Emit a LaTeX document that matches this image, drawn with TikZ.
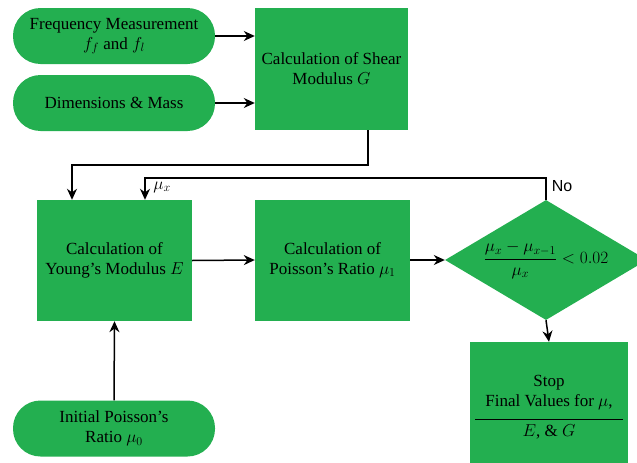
\documentclass[tikz,border=0pt]{standalone}
\usepackage{amsmath}
\usepackage{fontspec}
\setmainfont{Liberation Serif}
\newfontfamily\nofont{Liberation Sans}
\usetikzlibrary{arrows.meta,shapes.geometric}
\definecolor{boxgreen}{RGB}{35,175,80}
\begin{document}
\begin{tikzpicture}[x=1pt,y=-1pt,
  base/.style={fill=boxgreen, draw=none, align=center, inner sep=0pt},
  rbox/.style={base, rounded corners=27.5pt, minimum width=202pt, minimum height=56pt},
  sbox/.style={base, minimum width=154pt, minimum height=121pt},
  conn/.style={line width=1.5pt, -{Stealth[length=11pt,width=10pt]}},
  font=\fontsize{17}{20}\selectfont]
\useasboundingbox (0,0) rectangle (637,463);
\clip (0,0) rectangle (637,463);
\node[rbox] (freq) at (114,36) {Frequency Measurement\\$f_f$ and $f_l$};
\node[rbox] (dim) at (114,103) {Dimensions \& Mass};
\node[sbox, minimum width=153pt, minimum height=122pt] (shear) at (331.5,69) {Calculation of Shear\\Modulus $G$};
\node[sbox, minimum width=155pt] (young) at (114.5,260.5) {Calculation of\\Young's Modulus $E$};
\node[sbox, minimum width=155pt] (pois) at (332.5,260) {Calculation of\\Poisson's Ratio $\mu_1$};
\node[base, diamond, minimum width=202pt, minimum height=120pt, aspect=1.68] (dec) at (546,260) {$\dfrac{\mu_x-\mu_{x-1}}{\mu_x}<0.02$};
\node[sbox, minimum width=158pt, minimum height=130pt] (stop) at (549,407) {Stop\\Final Values for $\mu$,\\[-6pt]\rule{148pt}{1pt}\\[-4pt]$E$, \& $G$};
\node[rbox] (init) at (114,428.5) {Initial Poisson's\\Ratio $\mu_0$};
\draw[conn] (freq.east) -- (freq.east -| shear.west);
\draw[conn] (dim.east) -- (dim.east -| shear.west);
\coordinate (a1) at (368,165);
\coordinate (a2) at (72,165);
\draw[conn] (shear.south -| a1) -- (a1) -- (a2) -- (a2 |- young.north);
\coordinate (b1) at (546,178);
\coordinate (b2) at (145,178);
\draw[conn] (dec.north) -- (b1) -- (b2) -- (b2 |- young.north);
\draw[conn] (young.east) -- (pois.west);
\draw[conn] (pois.east) -- (dec.west);
\draw[conn] (dec.south) -- (stop.north);
\draw[conn] (init.north) -- (young.south);
\node (mux) at (162,187) {$\mu_x$};
\node[font=\nofont\fontsize{16}{19}\selectfont] (no) at (562,186) {No};
\end{tikzpicture}
\end{document}
